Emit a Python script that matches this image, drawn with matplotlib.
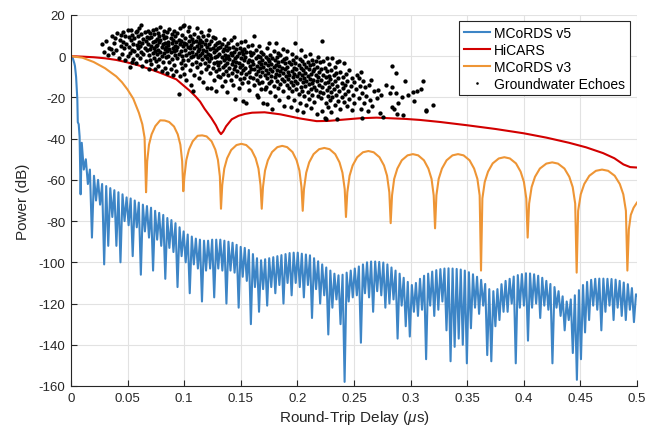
import numpy as np
import matplotlib.pyplot as plt

plt.rcParams['font.family'] = ['Liberation Sans', 'DejaVu Sans']
plt.rcParams['axes.unicode_minus'] = False
plt.rcParams['mathtext.fontset'] = 'custom'
plt.rcParams['mathtext.it'] = 'Liberation Sans:italic'
plt.rcParams['mathtext.rm'] = 'Liberation Sans'

# -----------------------
# data
# -----------------------
# MCoRDS v5: steep main lobe, then one value per sidelobe top / null
v5_head_x = [0, 0.0015, 0.003, 0.0035, 0.0045, 0.0056, 0.006, 0.0068, 0.0076, 0.0085]
v5_head_db = [0, -0.8, -3.5, -4.8, -10, -21, -32, -33, -39, -67]
v5_first_top = 0.0095     # us
v5_cycle = 0.0036         # us, sidelobe spacing
v5_top_db = [
    -42, -50, -55, -58, -60, -62, -63, -64, -65, -66,
    -67, -68.5, -69, -70, -71, -72, -72.7, -73.5, -75, -76,
    -77, -78.5, -79.5, -81, -83, -85, -86.5, -87.5, -88.5, -89,
    -89.5, -89.5, -89, -89, -89, -89.5, -90, -90.5, -91.5, -92.5,
    -93, -94, -96, -98, -99, -98.5, -98, -97.5, -97, -96.5,
    -96, -95.5, -95.3, -95.3, -95.8, -96.2, -96.6, -98, -99.5, -101,
    -102.5, -104, -105.5, -106.3, -106, -105, -104, -103, -102, -101,
    -100, -99.6, -99.6, -99.8, -100.1, -101, -102.5, -104, -105.5, -107.5,
    -109.5, -111, -110, -108, -106.5, -105.5, -104.5, -103.8, -103.3, -103,
    -102.9, -103, -103.2, -103.5, -104, -104.8, -105.8, -107, -108.5, -110.5,
    -113, -114, -113, -110.6, -109, -108, -106.9, -106.2, -105.7, -105.3,
    -105.4, -105.8, -106.5, -107.5, -109, -110.5, -112, -114, -116.5, -119,
    -118, -116, -113.5, -111, -109.5, -108.5, -108, -107.9, -107.9, -108,
    -108.1, -108.4, -109, -109.8, -110.6, -112.5, -115.5,
]
v5_null_db = [
    -55, -62, -88, -70, -72, -101, -92, -78, -92, -100,
    -80, -82, -97, -83, -106, -85, -88, -104, -89, -92,
    -108, -93, -95, -112, -97, -100, -115, -101, -103, -119,
    -104, -103, -117, -103, -104, -120, -104, -105, -122, -107,
    -109, -130, -112, -124, -113, -121, -112, -115, -111, -120,
    -110, -116, -110, -112, -117, -111, -127, -113, -120, -116,
    -135, -122, -118, -130, -158, -119, -117, -116, -139, -115,
    -117, -124, -114, -116, -122, -120, -118, -137, -121, -131,
    -136, -124, -126, -123, -147, -121, -126, -123, -119, -133,
    -148, -141, -137, -140, -149, -132, -122, -125, -121, -145,
    -148, -131, -128, -124, -124, -120, -149, -122, -121, -138,
    -122, -120, -127, -121, -123, -149, -122, -126, -133, -128,
    -144, -157, -147, -134, -128, -121, -123, -133, -124, -121,
    -128, -122, -126, -128, -123, -129,
]
v5_end = (0.5, -116)

# HiCARS
hicars_x = [0, 0.01, 0.02, 0.03, 0.04, 0.049, 0.06, 0.07, 0.08, 0.093, 0.1, 0.105,
            0.11, 0.114, 0.118, 0.124, 0.128, 0.1305, 0.1325, 0.1345, 0.137, 0.142,
            0.148, 0.1537, 0.16, 0.171, 0.185, 0.2023, 0.217, 0.227, 0.2376, 0.255,
            0.27, 0.282, 0.295, 0.308, 0.326, 0.35, 0.375, 0.4, 0.42, 0.44, 0.455,
            0.47, 0.48, 0.488, 0.494, 0.5]
hicars_db = [0, -0.2, -0.5, -1.0, -1.8, -2.9, -4.5, -6.3, -8.3, -11.2, -14.5, -16.8,
             -19.5, -22.0, -25.5, -30.0, -33.5, -36.3, -37.8, -36.5, -34.0, -30.6,
             -28.9, -28.0, -27.4, -27.2, -28.2, -30.2, -31.5, -31.4, -30.9, -30.1,
             -29.8, -30.1, -30.4, -30.9, -31.9, -33.5, -35.3, -37.4, -39.5, -42.0, -44.2,
             -47.0, -49.5, -52.5, -53.8, -54.0]

# MCoRDS v3 (x us, dB)
mcords_v3 = [
    (0, 0), (0.01, -0.7), (0.02, -2.8), (0.03, -5.8), (0.04, -9.8), (0.045, -12.6),
    (0.05, -16.2), (0.055, -20.6), (0.06, -27.5), (0.063, -33), (0.065, -39.5), (0.0663, -66),
    (0.0673, -51), (0.0689, -42.9), (0.0712, -37.9), (0.0745, -33.9), (0.0788, -31.1),
    (0.0828, -31.2), (0.0867, -31.9), (0.0910, -34.1), (0.0943, -37.9), (0.0966, -42.9),
    (0.0982, -50.9), (0.0992, -65.5),
    (0.1002, -58.3), (0.1019, -50.3), (0.1042, -45.3), (0.1075, -41.3), (0.1119, -38.6),
    (0.1159, -38.4), (0.1198, -38.9), (0.1242, -41.3), (0.1275, -45.3), (0.1298, -50.3),
    (0.1315, -58.3), (0.1325, -74),
    (0.1336, -62.5), (0.1354, -54.5), (0.1379, -49.5), (0.1415, -45.5), (0.1462, -43.1),
    (0.1505, -42.5), (0.1548, -43.1), (0.1595, -45.5), (0.1631, -49.5), (0.1656, -54.5),
    (0.1674, -62.5), (0.1685, -74),
    (0.1696, -63.5), (0.1714, -55.5), (0.1739, -50.5), (0.1776, -46.5), (0.1823, -44.1),
    (0.1866, -43.5), (0.1909, -44.1), (0.1957, -46.5), (0.1993, -50.5), (0.2018, -55.5),
    (0.2036, -63.5), (0.2047, -75),
    (0.2058, -64.5), (0.2078, -56.5), (0.2104, -51.5), (0.2143, -47.5), (0.2192, -45.1),
    (0.2238, -44.5), (0.2284, -45.1), (0.2334, -47.5), (0.2372, -51.5), (0.2398, -56.5),
    (0.2418, -64.5), (0.2429, -78),
    (0.2441, -66), (0.2461, -58), (0.2488, -53), (0.2528, -49), (0.2579, -46.6),
    (0.2627, -46), (0.2674, -46.6), (0.2725, -49), (0.2765, -53), (0.2792, -58),
    (0.2812, -66), (0.2824, -81),
    (0.2836, -67.5), (0.2855, -59.5), (0.2883, -54.5), (0.2922, -50.5), (0.2973, -48.1),
    (0.302, -47.5), (0.3067, -48.1), (0.3118, -50.5), (0.3157, -54.5), (0.3185, -59.5),
    (0.3204, -67.5), (0.3216, -83.5),
    (0.3228, -67.5), (0.3248, -59.5), (0.3277, -54.5), (0.3318, -50.5), (0.3370, -48.1),
    (0.3419, -47.5), (0.3468, -48.1), (0.3521, -50.5), (0.3561, -54.5), (0.3590, -59.5),
    (0.3610, -67.5), (0.3622, -104),
    (0.3634, -69), (0.3655, -61), (0.3684, -56), (0.3725, -52), (0.3779, -49.6),
    (0.3828, -49), (0.3877, -49.6), (0.3931, -52), (0.3972, -56), (0.4001, -61),
    (0.4022, -69), (0.4034, -88),
    (0.4047, -71.5), (0.4069, -63.5), (0.4099, -58.5), (0.4142, -54.5), (0.4199, -52.1),
    (0.4251, -51.5), (0.4302, -52.1), (0.4359, -54.5), (0.4402, -58.5), (0.4432, -63.5),
    (0.4454, -71.5), (0.4467, -105),
    (0.4480, -75), (0.4503, -67), (0.4534, -62), (0.4579, -58), (0.4637, -55.6),
    (0.4691, -55), (0.4745, -55.6), (0.4803, -58), (0.4848, -62), (0.4879, -67),
    (0.4902, -75), (0.4915, -104),
    (0.4928, -84), (0.4945, -77), (0.497, -73.5), (0.5, -71),
]

# Groundwater echoes (x us, dB)
groundwater_echoes = [
    (0.027, 5.8), (0.029, 2.1), (0.031, 7.3), (0.033, 0.5), (0.034, 4.2), (0.036, 9.6),
    (0.037, 1.8), (0.038, 6.5), (0.040, 3.0), (0.041, 11.2), (0.042, -0.8), (0.043, 8.1),
    (0.044, 5.2), (0.045, 1.3), (0.046, 11.8), (0.046, 7.0), (0.047, 3.9), (0.048, 9.9),
    (0.048, -2.0), (0.049, 6.1), (0.050, 0.2), (0.050, 12.5), (0.044, 10.4), (0.039, 8.8),
    (0.035, 3.3),
    (0.051, 4.4), (0.051, 9.1), (0.052, -5.0), (0.052, 1.7), (0.053, 7.8), (0.053, 12.9),
    (0.054, 3.2), (0.054, 10.4), (0.055, -1.3), (0.055, 6.0), (0.056, 8.7), (0.056, 2.5),
    (0.057, 11.6), (0.057, -3.4), (0.058, 5.3), (0.058, 0.6), (0.059, 9.8), (0.059, 3.9),
    (0.060, 7.1), (0.060, 13.6), (0.061, -0.9), (0.061, 4.8), (0.062, 10.9), (0.062, 15.1),
    (0.062, 2.2), (0.063, 6.6), (0.063, -4.6), (0.064, 8.3), (0.064, 1.1), (0.065, 11.7),
    (0.065, 4.0), (0.066, -2.2), (0.066, 7.4), (0.067, 9.5), (0.067, 2.9), (0.068, 12.4),
    (0.068, 5.7), (0.069, -6.3), (0.069, 0.4), (0.069, 8.9), (0.070, 3.6), (0.070, 11.2),
    (0.070, -1.8), (0.058, 12.0), (0.054, -2.6),
    (0.071, 5.1), (0.071, -3.9), (0.071, 9.4), (0.072, 1.6), (0.072, 12.7), (0.072, 6.9),
    (0.073, -0.7), (0.073, 3.8), (0.073, 10.6), (0.074, -6.3), (0.074, 7.5), (0.074, 2.4),
    (0.075, 4.9), (0.075, 13.3), (0.075, -2.1), (0.076, 8.2), (0.076, 0.9), (0.076, 5.6),
    (0.077, 11.4), (0.077, -4.8), (0.077, 3.1), (0.078, 6.7), (0.078, 9.9), (0.078, -1.2),
    (0.079, 2.0), (0.079, 7.9), (0.079, 14.2), (0.080, 4.3), (0.080, -7.4), (0.080, 0.3),
    (0.081, 10.1), (0.081, 5.9), (0.081, -3.0), (0.082, 8.6), (0.082, 1.4), (0.082, 12.0),
    (0.083, 3.5), (0.083, -5.5), (0.083, 6.2), (0.084, 9.3), (0.084, -0.4), (0.084, 4.6),
    (0.085, 11.9), (0.085, 2.7), (0.085, -8.1), (0.086, 7.0), (0.086, 0.1), (0.086, 5.4),
    (0.087, 13.0), (0.087, -2.6), (0.087, 3.3), (0.088, 8.8), (0.088, -6.0), (0.088, 1.9),
    (0.089, 6.3), (0.089, 10.8), (0.089, -1.5), (0.090, 4.1), (0.090, -9.3), (0.090, 7.7),
    (0.091, 2.3), (0.091, 12.4), (0.091, -4.2), (0.092, 5.2), (0.092, 0.6), (0.092, 9.6),
    (0.093, -7.0), (0.093, 3.0), (0.093, 6.8), (0.094, 11.1), (0.094, -0.9), (0.094, 4.5),
    (0.095, -18.4), (0.095, 8.1), (0.095, 1.2), (0.096, -9.5), (0.096, 5.8), (0.096, 13.8),
    (0.097, -3.3), (0.097, 2.6), (0.097, 7.3), (0.098, 10.2), (0.098, -5.8), (0.098, 0.0),
    (0.099, 4.8), (0.099, 14.7), (0.099, -1.9), (0.100, 6.4), (0.100, 15.0), (0.100, -8.7),
    (0.101, 3.2), (0.101, -4.5), (0.101, 9.0), (0.102, 0.8), (0.102, 6.1), (0.102, -11.3),
    (0.103, 4.7), (0.103, 12.3), (0.103, -2.0), (0.104, 7.6), (0.104, 1.5), (0.104, 14.4),
    (0.105, -6.8), (0.105, 3.9), (0.105, 10.0), (0.106, -0.6), (0.106, 5.5), (0.106, -14.0),
    (0.107, 8.3), (0.107, 2.1), (0.107, -3.6), (0.108, 6.8), (0.108, -16.8), (0.108, 0.3),
    (0.109, 11.0), (0.109, 4.2), (0.109, -8.9), (0.110, 1.0), (0.110, 7.2), (0.110, -2.9),
    (0.111, 13.6), (0.111, 5.0), (0.111, -5.2), (0.112, 2.6), (0.112, 9.4), (0.112, -0.2),
    (0.113, -10.6), (0.113, 6.3), (0.113, 3.4), (0.114, -4.0), (0.114, 0.7), (0.114, 8.0),
    (0.115, 4.9), (0.115, -7.6), (0.115, 11.8), (0.116, 1.8), (0.116, -1.4), (0.116, 6.9),
    (0.117, -12.6), (0.117, 3.0), (0.117, 9.8), (0.118, -3.1), (0.118, 5.7), (0.118, 0.2),
    (0.119, 7.9), (0.119, -6.1), (0.119, 2.5), (0.120, -0.9), (0.120, 4.4), (0.120, -15.2),
    (0.121, 10.5), (0.121, 1.3), (0.121, -4.7), (0.122, 12.8), (0.122, 6.0), (0.122, -2.3),
    (0.123, 3.6), (0.123, -8.3), (0.123, 0.5), (0.124, -15.2), (0.124, 7.4), (0.124, -1.0),
    (0.125, 4.0), (0.125, -5.9), (0.125, 9.2), (0.126, -3.4), (0.126, 1.9), (0.126, -11.7),
    (0.127, 5.3), (0.127, -0.5), (0.127, 8.6), (0.128, -16.8), (0.128, 2.8), (0.128, -7.0),
    (0.129, 0.1), (0.129, 6.5), (0.129, -2.7), (0.130, 3.8), (0.130, -9.8), (0.130, -4.1),
    (0.131, 1.2), (0.131, -6.4), (0.131, 7.0), (0.132, -2.9), (0.132, 4.3), (0.132, -10.2),
    (0.133, -0.3), (0.133, 6.1), (0.133, -14.6), (0.134, 2.4), (0.134, -5.0), (0.134, -8.7),
    (0.135, 8.3), (0.135, -1.8), (0.135, 3.6), (0.136, -12.0), (0.136, 0.8), (0.136, -4.4),
    (0.137, 5.2), (0.137, -7.3), (0.137, -0.9), (0.138, 2.9), (0.138, -17.5), (0.138, -3.2),
    (0.139, 6.6), (0.139, -9.1), (0.139, 0.2), (0.140, -5.7), (0.140, 3.9), (0.140, -1.4),
    (0.141, -11.3), (0.141, 1.7), (0.141, 7.8), (0.142, -3.8), (0.142, -7.9), (0.142, 0.5),
    (0.143, 4.6), (0.143, -13.9), (0.143, -2.2), (0.144, -6.0), (0.144, 2.0), (0.144, 9.5),
    (0.145, -20.9), (0.145, -0.7), (0.145, -4.9), (0.146, 3.3), (0.146, -9.6), (0.146, -2.6),
    (0.147, 5.9), (0.147, -7.1), (0.147, 0.0), (0.148, -15.3), (0.148, -3.5), (0.148, 1.5),
    (0.149, -11.0), (0.149, 4.1), (0.149, -5.4), (0.150, -1.1), (0.150, -8.2), (0.150, 6.8),
    (0.151, 2.6), (0.151, -4.1), (0.151, -13.0), (0.152, -21.7), (0.152, 0.9), (0.152, -6.7),
    (0.153, -2.0), (0.153, 3.7), (0.153, -10.4), (0.154, -5.8), (0.154, 7.5), (0.154, -0.4),
    (0.155, -22.5), (0.155, -8.8), (0.155, 1.9), (0.156, -3.0), (0.156, -12.4), (0.156, 4.8),
    (0.157, -1.6), (0.157, -7.5), (0.157, -16.2), (0.158, 2.2), (0.158, -4.6), (0.158, -9.9),
    (0.159, 0.6), (0.159, -6.3), (0.160, -2.5), (0.160, 5.5),
    (0.161, -3.7), (0.161, -10.8), (0.161, 1.4), (0.162, 9.9), (0.162, -6.2), (0.162, -14.1),
    (0.163, -1.0), (0.163, -8.5), (0.163, 3.1), (0.164, -4.8), (0.164, -18.6), (0.164, -11.6),
    (0.165, -20.0), (0.165, 0.3), (0.165, -7.0), (0.166, -2.7), (0.166, -13.2), (0.166, 5.0),
    (0.167, -5.5), (0.167, -9.4), (0.167, -0.6), (0.168, -16.0), (0.168, 2.0), (0.168, -3.9),
    (0.169, -7.8), (0.169, -12.5), (0.169, -1.9), (0.170, -22.5), (0.170, -5.1), (0.170, 1.1),
    (0.171, -16.0), (0.171, -9.0), (0.171, -3.3), (0.172, -0.2), (0.172, -6.8), (0.172, -14.8),
    (0.173, -23.3), (0.173, -10.5), (0.173, 3.8), (0.174, -4.4), (0.174, -1.3), (0.174, -8.1),
    (0.175, -12.9), (0.175, -2.5), (0.175, 6.3), (0.176, -6.0), (0.176, -17.4), (0.176, 0.7),
    (0.177, -9.7), (0.177, -3.6), (0.177, -11.9), (0.178, -25.7), (0.178, -0.9), (0.178, -7.2),
    (0.179, -14.3), (0.179, 2.6), (0.179, -5.0), (0.180, -10.0), (0.180, -1.7), (0.180, -19.5),
    (0.181, 6.6), (0.181, -4.2), (0.181, -8.6), (0.182, -12.2), (0.182, -0.3), (0.182, -6.5),
    (0.183, -15.6), (0.183, -2.9), (0.183, 1.8), (0.184, -9.2), (0.184, -21.0), (0.184, -4.7),
    (0.185, -7.4), (0.185, -13.4), (0.185, 0.4), (0.186, -2.1), (0.186, -10.9), (0.186, -5.9),
    (0.187, -16.8), (0.187, 3.5), (0.187, -8.0), (0.188, -1.5), (0.188, -12.0), (0.188, -24.0),
    (0.189, -6.3), (0.189, -3.4), (0.190, -9.5), (0.190, -0.8),
    (0.191, -14.0), (0.191, -5.2), (0.191, 2.4), (0.192, -11.0), (0.192, -19.8), (0.192, -7.7),
    (0.193, -2.6), (0.193, -15.3), (0.193, -9.1), (0.194, -24.5), (0.194, -4.0), (0.194, -12.6),
    (0.195, 0.9), (0.195, -7.0), (0.195, -17.1), (0.196, -10.3), (0.196, -1.8), (0.196, -13.9),
    (0.197, -5.9), (0.197, -21.4), (0.197, -8.5), (0.198, 6.3), (0.198, -3.1), (0.198, -11.8),
    (0.199, -16.0), (0.199, -6.4), (0.199, -0.5), (0.200, -9.6), (0.200, -26.0), (0.200, -13.0),
    (0.201, -4.5), (0.201, -18.4), (0.201, -7.9), (0.202, -1.2), (0.202, -11.1), (0.202, -22.5),
    (0.203, -14.7), (0.203, -5.6), (0.203, 3.0), (0.204, -9.0), (0.204, -16.9), (0.204, -2.4),
    (0.205, -12.3), (0.205, -27.0), (0.205, -6.8), (0.206, -19.2), (0.206, -3.6), (0.206, -10.5),
    (0.207, -0.1), (0.207, -14.4), (0.207, -8.2), (0.208, -23.6), (0.208, -5.0), (0.208, -12.0),
    (0.209, -17.6), (0.209, -9.8), (0.209, -2.9), (0.210, -6.1), (0.210, -20.7), (0.210, -13.5),
    (0.211, 1.2), (0.211, -10.9), (0.211, -4.3), (0.212, -15.8), (0.212, -8.4), (0.212, -25.0),
    (0.213, -1.6), (0.213, -12.8), (0.213, -18.9), (0.214, -7.1), (0.214, -3.8), (0.214, -11.4),
    (0.215, -22.0), (0.215, -14.9), (0.215, -6.0), (0.216, -9.3), (0.216, -16.5), (0.216, -2.2),
    (0.217, -12.2), (0.217, -28.0), (0.217, -5.4), (0.218, -19.5), (0.218, -10.0), (0.218, -0.6),
    (0.219, -14.0), (0.219, -7.6), (0.220, -17.3), (0.220, -3.0),
    (0.221, -11.5), (0.221, -20.3), (0.221, -6.2), (0.222, 7.4), (0.222, -15.0), (0.222, -26.4),
    (0.223, -9.0), (0.223, -2.1), (0.223, -18.0), (0.224, -29.8), (0.224, -13.1), (0.224, -5.5),
    (0.225, -22.6), (0.225, -10.2), (0.225, -30.3), (0.226, -16.3), (0.226, -7.4), (0.226, -1.0),
    (0.227, -12.5), (0.227, -24.7), (0.227, -19.1), (0.228, -9.6), (0.228, -14.8), (0.228, -4.0),
    (0.229, -21.3), (0.229, -11.0), (0.230, -17.5), (0.230, -6.9), (0.230, -27.2), (0.231, -0.7),
    (0.231, -13.7), (0.231, -20.0), (0.232, -9.3), (0.232, -16.1), (0.233, -23.8), (0.233, -5.1),
    (0.233, -12.0), (0.234, -18.7), (0.234, -8.0), (0.235, -30.6), (0.235, -14.3), (0.235, -2.8),
    (0.236, -10.8), (0.236, -21.9), (0.237, -2.3), (0.237, -16.9), (0.238, -7.5), (0.238, -25.5),
    (0.239, -12.9), (0.239, -19.6), (0.240, -9.9), (0.240, -15.6), (0.241, -3.3), (0.241, -22.2),
    (0.242, -13.8), (0.242, -18.2), (0.243, -8.7), (0.244, -24.0), (0.244, -11.9), (0.245, -17.0),
    (0.246, -20.8), (0.246, -6.6), (0.247, -14.5), (0.248, -26.0), (0.248, -10.4), (0.249, -18.8),
    (0.250, -22.9), (0.250, -12.6),
    (0.252, -16.0), (0.253, -9.2), (0.254, -10.8), (0.254, -20.5), (0.255, -14.3), (0.256, -7.6),
    (0.256, -25.4), (0.257, -29.8), (0.257, -17.9), (0.258, -12.2), (0.259, -22.7), (0.260, -15.1),
    (0.261, -19.5), (0.262, -26.8), (0.263, -14.1), (0.264, -21.3), (0.265, -11.6), (0.266, -24.2),
    (0.268, -17.0), (0.270, -20.1), (0.271, -16.3), (0.273, -27.4), (0.274, -18.6), (0.276, -29.3),
    (0.278, -13.8),
    (0.282, -18.0), (0.284, -4.7), (0.284, -14.9), (0.284, -24.4), (0.285, -25.8), (0.287, -8.3),
    (0.287, -18.0), (0.288, -28.2), (0.289, -22.8), (0.292, -20.0), (0.293, -28.6), (0.295, -12.0),
    (0.298, -18.9), (0.302, -17.3), (0.303, -21.7), (0.306, -16.8), (0.309, -16.0), (0.311, -12.0),
    (0.314, -26.0), (0.3195, -23.6), (0.3136, -26.5),
]

# -----------------------
# build MCoRDS v5 trace
# -----------------------
n_top = len(v5_top_db)
top_x = v5_first_top + v5_cycle * np.arange(n_top)
null_x = top_x[:-1] + v5_cycle / 2
lobe_x = np.empty(2 * n_top - 1)
lobe_db = np.empty(2 * n_top - 1)
lobe_x[0::2], lobe_x[1::2] = top_x, null_x
lobe_db[0::2], lobe_db[1::2] = v5_top_db, v5_null_db
v5_x = np.concatenate([v5_head_x, lobe_x, [v5_end[0]]])
v5_db = np.concatenate([v5_head_db, lobe_db, [v5_end[1]]])

v3 = np.array(mcords_v3)
gw = np.array(groundwater_echoes)

# -----------------------
# plot
# -----------------------
fig = plt.figure(figsize=(6.48, 4.39), dpi=100)
ax = fig.add_axes([71 / 648, 1 - 387 / 439, 566 / 648, 371 / 439])

ax.plot(v5_x, v5_db, color="#3d85c6", lw=1.5, label="MCoRDS v5")
ax.plot(hicars_x, hicars_db, color="#d20000", lw=1.5, label="HiCARS")
ax.plot(v3[:, 0], v3[:, 1], color="#ee9535", lw=1.5, label="MCoRDS v3")
ax.plot(gw[:, 0], gw[:, 1], ls="none", marker="o", ms=3.1, color="black",
        markeredgewidth=0, label="Groundwater Echoes")

ax.set_xlim(0, 0.5)
ax.set_ylim(-160, 20)
xticks = [0, 0.05, 0.1, 0.15, 0.2, 0.25, 0.3, 0.35, 0.4, 0.45, 0.5]
xtick_labels = ["0", "0.05", "0.1", "0.15", "0.2", "0.25", "0.3", "0.35", "0.4", "0.45", "0.5"]
ax.set_xticks(xticks)
ax.set_xticklabels(xtick_labels)
ax.set_yticks(np.arange(-160, 21, 20))

ax.grid(True, color="#e2e2e2", lw=0.8)
ax.set_axisbelow(True)
for side in ["top", "right"]:
    ax.spines[side].set_visible(False)
for side in ["left", "bottom"]:
    ax.spines[side].set_color("#262626")
    ax.spines[side].set_linewidth(0.8)
ax.tick_params(direction="in", length=4, width=0.8, color="#262626",
               labelcolor="#262626", labelsize=9.5, pad=4)

ax.set_xlabel(r"Round-Trip Delay ($\mu$s)", fontsize=11, color="#262626", labelpad=3)
ax.set_ylabel("Power (dB)", fontsize=11, color="#262626", labelpad=6)

leg = ax.legend(loc="upper right", bbox_to_anchor=(0.988, 0.983), borderaxespad=0,
                fontsize=10, frameon=True, fancybox=False, edgecolor="#262626",
                framealpha=1, handlelength=1.9, handletextpad=0.3, labelspacing=0.2,
                borderpad=0.35, markerscale=0.6)
leg.get_frame().set_linewidth(0.8)

fig.savefig("out.png", dpi=100)
